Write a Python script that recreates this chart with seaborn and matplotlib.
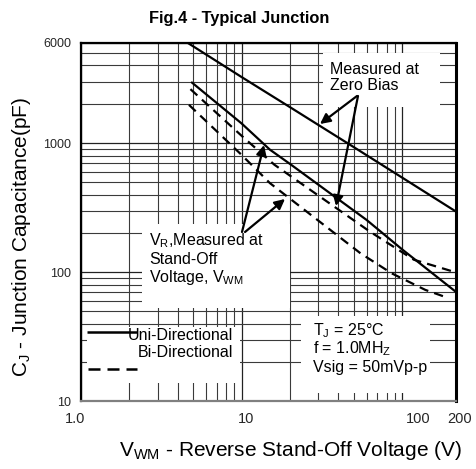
import numpy as np
import pandas as pd
import matplotlib
matplotlib.use('Agg')
import matplotlib.pyplot as plt
import matplotlib.ticker as mticker
import matplotlib.transforms as mtrans
from matplotlib.patches import Rectangle
import seaborn as sns

# ---------------- data ----------------
zero_v = [4.6, 10, 20, 50, 100, 216]
zero_c = [6000, 3250, 1900, 930, 540, 295]
uni_v = [4.9, 10, 15, 20, 60, 100, 214]
uni_c = [2950, 1420, 890, 690, 254, 150, 71]
bi_hi_v = [4.8, 10, 16, 63, 118, 214]
bi_hi_c = [2620, 1140, 680, 206, 125, 100]
bi_lo_v = [4.7, 10, 15, 55, 86, 139, 194]
bi_lo_c = [1980, 810, 490, 140, 98, 73, 63]

x_ticks = [1, 10, 100, 200]
x_labels = ['1.0', '10', '100', '200']
y_ticks = [10, 100, 1000, 6000]
y_labels = ['10', '100', '1000', '6000']

# ---------------- style ----------------
sns.set_theme(style='white')
plt.rcParams['font.family'] = ['Liberation Sans', 'DejaVu Sans']
plt.rcParams['mathtext.fontset'] = 'custom'
plt.rcParams['mathtext.rm'] = 'Liberation Sans'
plt.rcParams['mathtext.it'] = 'Liberation Sans:italic'
plt.rcParams['mathtext.bf'] = 'Liberation Sans:bold'

W, H = 477, 469
fig = plt.figure(figsize=(W / 100, H / 100), dpi=100)
AX_L, AX_R, AX_T, AX_B = 81, 456, 42.7, 401.3
ax = fig.add_axes([AX_L / W, 1 - AX_B / H, (AX_R - AX_L) / W, (AX_B - AX_T) / H])


def fx(px):
    return (px - AX_L) / (AX_R - AX_L)


def fy(py):
    return (AX_B - py) / (AX_B - AX_T)


ax.set_xscale('log')
ax.set_yscale('log')
ax.set_xlim(1, 216)
ax.set_ylim(10, 6000)
ax.set_axisbelow(True)

dash = (0, (4.2, 2.8))
series = [
    (zero_v, zero_c, '-'),
    (uni_v, uni_c, '-'),
    (bi_hi_v, bi_hi_c, dash),
    (bi_lo_v, bi_lo_c, dash),
]
for v, c, ls in series:
    df = pd.DataFrame({'V': v, 'C': c})
    sns.lineplot(data=df, x='V', y='C', ax=ax, color='black', lw=1.6,
                 linestyle=ls, zorder=3)

# ticks & grid
ax.set_xticks(x_ticks)
ax.set_xticklabels(x_labels)
ax.xaxis.set_minor_locator(mticker.FixedLocator(
    [m * 10 ** e for e in (0, 1) for m in range(2, 10)]))
ax.xaxis.set_minor_formatter(mticker.NullFormatter())
ax.set_yticks(y_ticks)
ax.set_yticklabels(y_labels)
ax.yaxis.set_minor_locator(mticker.LogLocator(base=10, subs=np.arange(2, 10), numticks=30))
ax.yaxis.set_minor_formatter(mticker.NullFormatter())

ax.tick_params(axis='x', which='both', length=0, labelsize=10.5, pad=8)
ax.tick_params(axis='y', which='major', length=4, width=1.2, direction='out',
               labelsize=9, pad=3, color='black')
ax.tick_params(axis='y', which='minor', length=0)

ax.grid(which='major', color='#222222', lw=0.9)
ax.grid(which='minor', color='#3a3a3a', lw=0.8)
ax.xaxis.get_major_ticks()[3].gridline.set_visible(False)

# shift x tick labels like the reference
offs = [-6, 4, 16, 9]
for lab, d in zip(ax.get_xticklabels(), offs):
    lab.set_transform(lab.get_transform() + mtrans.ScaledTranslation(d / 100, 0, fig.dpi_scale_trans))

for s in ['left', 'top']:
    ax.spines[s].set_color('black')
    ax.spines[s].set_linewidth(1.6)
ax.spines['right'].set_color('black')
ax.spines['right'].set_linewidth(2.2)
ax.spines['bottom'].set_color('#808080')
ax.spines['bottom'].set_linewidth(1.6)

# white label boxes that hide the grid
boxes = [(323, 53, 440, 107), (142, 224, 290, 308), (87, 327, 240.5, 383), (301, 316, 430, 393)]
for x0, y0, x1, y1 in boxes:
    ax.add_patch(Rectangle((fx(x0), fy(y1)), fx(x1) - fx(x0), fy(y0) - fy(y1),
                           transform=ax.transAxes, facecolor='white', edgecolor='none', zorder=2))

fs = 11.5


def txt(x, y, s, ha='left'):
    ax.text(fx(x), fy(y), s, transform=ax.transAxes, fontsize=fs, ha=ha, va='baseline',
            color='black', zorder=4)


txt(330.5, 73.5, 'Measured at')
txt(330.5, 90, 'Zero Bias')
txt(149, 245, r'V$_\mathregular{R}$,Measured at')
txt(149, 263.5, 'Stand-Off')
txt(149, 282, r'Voltage, V$_\mathregular{WM}$')
txt(233, 340, 'Uni-Directional', ha='right')
txt(233, 357, 'Bi-Directional', ha='right')
txt(313, 335, r'T$_\mathregular{J}$ = 25°C')
txt(313, 353.5, r'f = 1.0MH$_\mathregular{Z}$')
txt(313, 372, 'Vsig = 50mVp-p')

# legend samples
ax.plot([fx(87), fx(137)], [fy(332), fy(332)], transform=ax.transAxes, color='black',
        lw=1.8, zorder=3, solid_capstyle='butt')
ax.plot([fx(88), fx(137)], [fy(369), fy(369)], transform=ax.transAxes, color='black',
        lw=1.8, zorder=3, linestyle=(0, (4.8, 2.8)), dash_capstyle='butt')

# arrows
arrows = [((357, 96), (320, 124)), ((358, 96), (336, 206)),
          ((242, 232), (264, 145)), ((245, 232), (285, 199))]
for (tx, ty), (hx, hy) in arrows:
    ax.annotate('', xy=(fx(hx), fy(hy)), xytext=(fx(tx), fy(ty)),
                xycoords='axes fraction', textcoords='axes fraction',
                arrowprops=dict(arrowstyle='-|>', color='black', lw=1.6,
                                mutation_scale=15, shrinkA=0, shrinkB=0), zorder=4)

# labels
ax.set_xlabel(r'V$_\mathregular{WM}$ - Reverse Stand-Off Voltage (V)', fontsize=15, color='black')
ax.xaxis.set_label_coords(fx(290.5), fy(451))
ax.xaxis.label.set_va('center')
ax.set_ylabel(r'C$_\mathregular{J}$ - Junction Capacitance(pF)', fontsize=15, color='black')
ax.yaxis.set_label_coords(fx(22), fy(237))
ax.yaxis.label.set_va('center')

fig.text(239 / W, 1 - 18 / H, 'Fig.4 - Typical Junction', ha='center', va='center',
         fontsize=11.8, fontweight='bold', color='black')

fig.savefig('out.png', dpi=100)
